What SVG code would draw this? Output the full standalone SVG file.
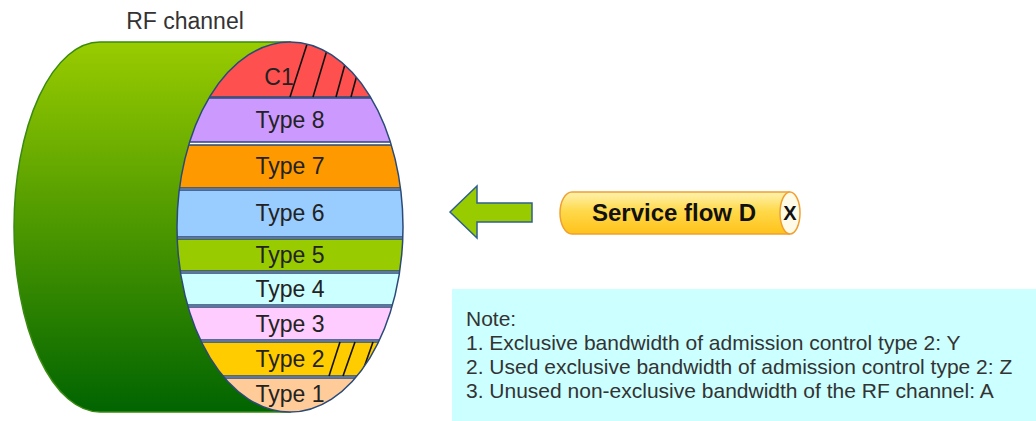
<svg xmlns="http://www.w3.org/2000/svg" width="1036" height="421" viewBox="0 0 1036 421">
  <style>
    .lbl { font-family: "Liberation Sans", Arial, sans-serif; font-size: 23px; fill: #222; text-anchor: middle; }
    .band { stroke: #2a4a78; stroke-width: 1.5; }
    .hatch { stroke: #111; stroke-width: 1.6; fill: none; }
    .note { font-family: "Liberation Sans", Arial, sans-serif; font-size: 21px; fill: #333; }
  </style>
  <defs>
    <linearGradient id="bodyGrad" x1="0" y1="0" x2="0" y2="1">
      <stop offset="0" stop-color="#99cc00"/>
      <stop offset="1" stop-color="#006400"/>
    </linearGradient>
    <linearGradient id="pipeGrad" x1="0" y1="0" x2="0" y2="1">
      <stop offset="0" stop-color="#fff2b0"/>
      <stop offset="0.45" stop-color="#ffd94a"/>
      <stop offset="1" stop-color="#ffc21a"/>
    </linearGradient>
    <clipPath id="faceClip">
      <ellipse cx="290" cy="227" rx="113" ry="185"/>
    </clipPath>
  </defs>

  <!-- RF channel cylinder -->
  <g id="rf-channel">
    <text x="185" y="29" class="lbl" style="fill:#333">RF channel</text>
    <path d="M290,42 L100,42 A86,185 0 0 0 100,412 L290,412 Z" fill="url(#bodyGrad)" stroke="#3a8a10" stroke-width="1.5"/>
    <ellipse cx="290" cy="227" rx="113" ry="185" fill="#fff"/>
    <g clip-path="url(#faceClip)">
      <rect class="band" x="170" y="30" width="240" height="67" fill="#ff5050"/>
      <rect class="band" x="170" y="98" width="240" height="44" fill="#cc99ff"/>
      <rect class="band" x="170" y="145" width="240" height="43" fill="#ff9900"/>
      <rect class="band" x="170" y="190" width="240" height="47" fill="#99ccff"/>
      <rect class="band" x="170" y="239" width="240" height="32" fill="#99cc00"/>
      <rect class="band" x="170" y="273" width="240" height="32" fill="#ccffff"/>
      <rect class="band" x="170" y="307" width="240" height="33" fill="#ffccff"/>
      <rect class="band" x="170" y="342" width="240" height="34" fill="#ffcc00"/>
      <rect class="band" x="170" y="378" width="240" height="40" fill="#ffcc99"/>
      <!-- hatching: used bandwidth -->
      <line class="hatch" x1="290" y1="97" x2="309" y2="38"/>
      <line class="hatch" x1="313" y1="97" x2="330" y2="40"/>
      <line class="hatch" x1="336" y1="97" x2="350" y2="46"/>
      <line class="hatch" x1="351" y1="97" x2="361" y2="60"/>
      <line class="hatch" x1="329" y1="376" x2="340" y2="342"/>
      <line class="hatch" x1="343" y1="376" x2="355" y2="342"/>
      <line class="hatch" x1="361" y1="376" x2="373" y2="342"/>
    </g>
    <ellipse cx="290" cy="227" rx="113" ry="185" fill="none" stroke="#2a4a78" stroke-width="1.5"/>
    <text x="279" y="85" class="lbl">C1</text>
    <text x="290" y="128" class="lbl">Type 8</text>
    <text x="290" y="174" class="lbl">Type 7</text>
    <text x="290" y="221" class="lbl">Type 6</text>
    <text x="290" y="263" class="lbl">Type 5</text>
    <text x="290" y="297" class="lbl">Type 4</text>
    <text x="290" y="332" class="lbl">Type 3</text>
    <text x="290" y="367" class="lbl">Type 2</text>
    <text x="290" y="402" class="lbl">Type 1</text>
  </g>

  <!-- connector: admission arrow -->
  <g id="connectors">
    <path d="M450,212 L477,186 L477,203 L532,203 L532,222 L477,222 L477,238 Z" fill="#99cc00" stroke="#2f5f8f" stroke-width="1.5" stroke-linejoin="miter"/>
  </g>

  <!-- Service flow D pipe -->
  <g id="service-flow">
    <path d="M790,192 L572,192 A12,21 0 0 0 572,234 L790,234" fill="url(#pipeGrad)" stroke="#f0a030" stroke-width="1.5"/>
    <ellipse cx="790" cy="213" rx="10" ry="21" fill="#fffbe6" stroke="#f0a030" stroke-width="1.5"/>
    <text x="674" y="221" class="lbl" style="font-weight:bold; font-size:24px; fill:#111">Service flow D</text>
    <text x="790" y="220" class="lbl" style="font-weight:bold; font-size:20px; fill:#111">X</text>
  </g>

  <!-- Note box -->
  <g id="note">
    <rect x="452" y="289" width="584" height="132" fill="#ccffff"/>
    <text class="note" x="466" y="326">Note:</text>
    <text class="note" x="466" y="350">1. Exclusive bandwidth of admission control type 2: Y</text>
    <text class="note" x="466" y="374">2. Used exclusive bandwidth of admission control type 2: Z</text>
    <text class="note" x="466" y="398">3. Unused non-exclusive bandwidth of the RF channel: A</text>
  </g>
</svg>
